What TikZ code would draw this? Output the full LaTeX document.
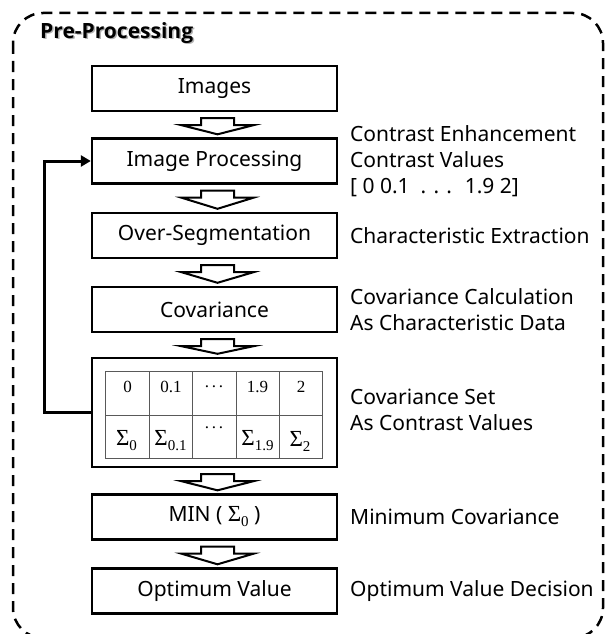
\documentclass[tikz,border=0pt]{standalone}
\usepackage{fontspec}
\setmainfont{Noto Sans}
\newfontfamily\seriffont{Liberation Serif}
\newfontfamily\titlefont{Open Sans}
\usetikzlibrary{arrows.meta,positioning}

% hollow block arrow from the bottom of one box to the top of the next
\newcommand{\flowarrow}[2]{%
  \draw[flow] ([xshift=-13.5pt,yshift=-6pt]#1.south) -- ++(0,7) -- ++(-19.5,0)
    -- ([xshift=3pt,yshift=3pt]#2.north) -- ([xshift=39pt,yshift=-13pt]#1.south)
    -- ++(-19.5,0) -- ++(0,-7) -- cycle;}

% sigma with a lowered index
\newcommand{\sig}[1]{{\seriffont\fontsize{23}{23}\selectfont\char"03A3\raisebox{-5pt}{\fontsize{15}{15}\selectfont #1}}}

\begin{document}
\begin{tikzpicture}[x=1pt,y=-1pt,
    box/.style={draw,line width=2.4pt,minimum width=245pt,minimum height=45pt,inner sep=0pt,font=\fontsize{21}{25}\selectfont},
    note/.style={anchor=west,inner sep=0pt,align=left,font=\fontsize{21}{26}\selectfont},
    title/.style={anchor=west,inner sep=0pt,font=\titlefont\bfseries\fontsize{21}{24}\selectfont},
    cell/.style={inner sep=0pt,font=\seriffont\fontsize{17}{17}\selectfont},
    gridline/.style={line width=1pt,black!65},
    flow/.style={draw,line width=2pt,line join=miter,fill=white},
    feedback/.style={line width=3pt,-{Triangle[length=10pt,width=11pt]}},
    outline/.style={line width=2.5pt,dash pattern=on 11pt off 7pt,rounded corners=30pt}
  ]
  \useasboundingbox (0,0) rectangle (607,634);

  % dashed frame round the whole stage
  \draw[outline] (13,13) rectangle (603,638);
  \node[title,text=black!30] (titleshade) at (41.5,34.5) {Pre-Processing};
  \node[title] (title) at (40,33) {Pre-Processing};

  % main column
  \node (images) at (214.5,88.5) [box] {Images};
  \node (improc) at (214.5,161) [box] {Image Processing};
  \node (overseg) at (214.5,235.5) [box] {Over-Segmentation};
  \node (cov) at (214.5,309.5) [box] {Covariance};
  \node (covset) at (214.5,412.5) [box,minimum height=109pt] {};
  \node (minval) at (214.5,517) [box] {MIN ( \sig{0} )};
  \node (optval) at (214.5,591) [box] {Optimum Value};

  % table of contrast values and covariances
  \draw[gridline] (105.5,371) rectangle (322.5,458);
  \draw[gridline] (105.5,415) -- (322.5,415);
  \foreach \x in {149,192.5,236,279}
    \draw[gridline] (\x,371) -- (\x,458);
  \foreach \x/\t [count=\i] in {127.5/0,171/0.1,214/{.\,.\,.},257.5/1.9,301/2}
    \node[cell] (val\i) at (\x,387) {\t};
  \node[cell] (sig1) at (126.5,441) {\sig{0}};
  \node[cell] (sig2) at (170.5,441) {\sig{0.1}};
  \node[cell] (sig3) at (214,428) {.\,.\,.};
  \node[cell] (sig4) at (257.5,441) {\sig{1.9}};
  \node[cell] (sig5) at (300,441) {\sig{2}};

  % notes on the right
  \node (n1) at (350,161) [note] {Contrast Enhancement\\Contrast Values\\{}[ 0 0.1 \ . . . \ 1.9 2]};
  \node (n2) at (350,235.5) [note] {Characteristic Extraction};
  \node (n3) at (350,310) [note] {Covariance Calculation\\As Characteristic Data};
  \node (n4) at (350,410) [note] {Covariance Set\\As Contrast Values};
  \node (n5) at (350,517) [note] {Minimum Covariance};
  \node (n6) at (350,591) [note] {Optimum Value Decision};

  \flowarrow{images}{improc}
  \flowarrow{improc}{overseg}
  \flowarrow{overseg}{cov}
  \flowarrow{cov}{covset}
  \flowarrow{covset}{minval}
  \flowarrow{minval}{optval}

  \draw[feedback] (covset.west) -- ++(-46.5,0) |- (improc.west);
\end{tikzpicture}
\end{document}
